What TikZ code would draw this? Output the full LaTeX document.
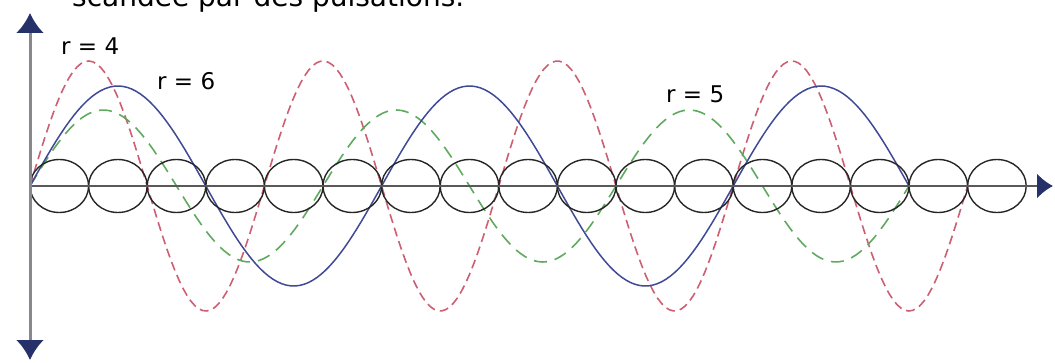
\documentclass[tikz,border=0pt]{standalone}
\usepackage{fontspec}
\setmainfont{DejaVu Sans}
\usetikzlibrary{arrows.meta}

\definecolor{tipblue}{RGB}{38,48,105}
\definecolor{axisgray}{RGB}{135,135,140}
\definecolor{wavered}{RGB}{205,95,115}
\definecolor{waveblue}{RGB}{62,74,150}
\definecolor{wavegreen}{RGB}{95,170,95}

\begin{document}
\begin{tikzpicture}[x=1pt, y=1pt,
    lbl/.style={anchor=base west, inner sep=0pt, font=\fontsize{23}{27}\selectfont},
    ring/.style={black!85, line width=1.4pt}]
    \useasboundingbox (0,0) rectangle (1055,362);
    \clip (0,0) rectangle (1055,362);

    \node[anchor=base west, inner sep=0pt, font=\fontsize{28}{32}\selectfont]
        (title) at (72,355.5) {scandée par des pulsations.};

    \coordinate (O) at (30,176);
    \coordinate (ytop) at (30,349);
    \coordinate (ybot) at (30,2);
    \coordinate (xend) at (1053,176);

    % waves (periods of 4, 5 and 6 circles)
    \draw[wavered, line width=1.6pt, dash pattern=on 9pt off 5pt, domain=30:967.6, samples=240]
        plot (\x, {176+125*sin(1.53584*(\x-30))});
    \draw[wavegreen, line width=1.6pt, dash pattern=on 13pt off 8pt, domain=30:909, samples=200]
        plot (\x, {176+76*sin(1.22867*(\x-30))});
    \draw[waveblue, line width=1.5pt, domain=30:909, samples=200]
        plot (\x, {176+100*sin(1.02389*(\x-30))});

    % circles
    \foreach \i in {0,...,16}
        \draw[ring] ({59.3+58.6*\i},176) ellipse [x radius=29.3, y radius=26.5];

    % axes
    \draw[black!65, line width=2pt, -{Latex[length=16pt,width=25pt,color=tipblue]}] (O) -- (xend);
    \draw[axisgray, line width=3pt,
        {Latex[length=20pt,width=28pt,color=tipblue]}-{Latex[length=20pt,width=28pt,color=tipblue]}]
        (ybot) -- (ytop);

    \node[lbl] (r4) at (61,307) {r = 4};
    \node[lbl] (r6) at (157,272) {r = 6};
    \node[lbl] (r5) at (666,259) {r = 5};
\end{tikzpicture}
\end{document}
